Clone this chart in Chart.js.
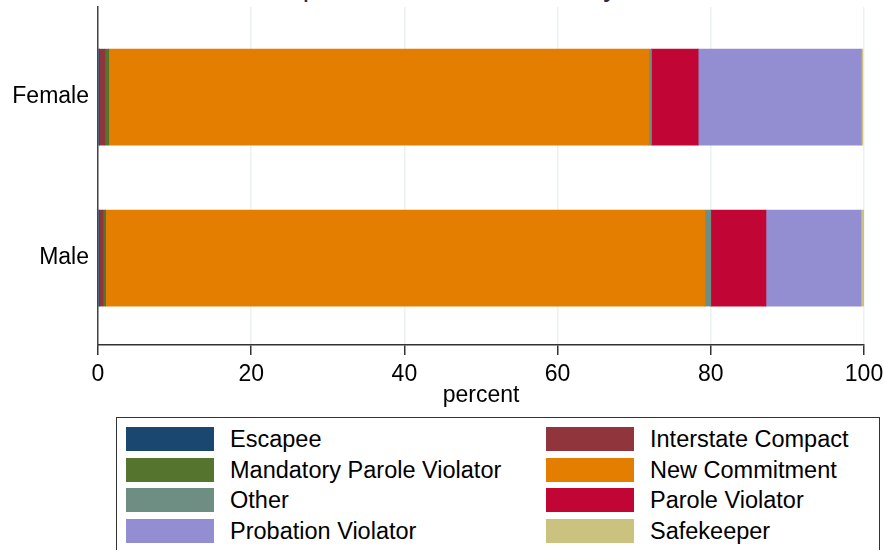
<!DOCTYPE html>
<html>
<head>
<meta charset="utf-8">
<script src="https://cdn.jsdelivr.net/npm/chart.js@4/dist/chart.umd.min.js"></script>
<style>
  body { margin: 0; background: #fff; font-family: "Liberation Sans", Arial, sans-serif; }
  #wrap { position: relative; width: 884px; height: 550px; overflow: hidden; }
  #title { position: absolute; left: 98px; width: 766px; top: -27px; font-size: 28px; line-height: 28px;
           text-align: center; color: #1e2c4e; white-space: nowrap; }
  #chart { position: absolute; left: 0; top: 0; }
  #legend { position: absolute; left: 116px; top: 417px; width: 764px; height: 160px;
            border: 1.5px solid #333; box-sizing: border-box; }
  .item { position: absolute; height: 24px; font-size: 23.5px; line-height: 24px; color: #000; white-space: nowrap; }
  .sw { position: absolute; left: 0; top: 0; width: 88px; height: 24px; }
  .lbl { position: absolute; left: 104px; top: 0; }
</style>
</head>
<body>
<div id="wrap">
  <div id="title">Composition of Admissions by Gender</div>
  <canvas id="chart" width="884" height="409"></canvas>
  <div id="legend"></div>
</div>
<script>
// --- Data ---
const categories = ["Female", "Male"];
const seriesNames = [
  "Escapee", "Interstate Compact", "Mandatory Parole Violator", "New Commitment",
  "Other", "Parole Violator", "Probation Violator", "Safekeeper"
];
const seriesColors = [
  "#1a476f", "#90353b", "#55752f", "#e37e00",
  "#6e8e84", "#c10534", "#938dd2", "#cac27e"
];
const escapee = [0.2, 0.2];
const interstateCompact = [0.7, 0.45];
const mandatoryParoleViolator = [0.5, 0.35];
const newCommitment = [70.5, 78.25];
const other = [0.35, 0.75];
const paroleViolator = [6.1, 7.2];
const probationViolator = [21.3, 12.4];
const safekeeper = [0.2, 0.4];
const xTicks = [0, 20, 40, 60, 80, 100];

const seriesValues = [
  escapee, interstateCompact, mandatoryParoleViolator, newCommitment,
  other, paroleViolator, probationViolator, safekeeper
];

const datasets = seriesNames.map((name, i) => ({
  label: name,
  data: seriesValues[i].map((v, j) => ({ x: v, y: j })),
  backgroundColor: seriesColors[i],
  borderWidth: 0,
  barThickness: 96,
  stack: "all"
}));

const font = { family: "'Liberation Sans', Arial, sans-serif", size: 23 };

new Chart(document.getElementById("chart"), {
  type: "bar",
  data: { datasets },
  options: {
    indexAxis: "y",
    responsive: false,
    animation: false,
    layout: { padding: { top: 7, right: 20, left: 0 } },
    plugins: { legend: { display: false }, tooltip: { enabled: false } },
    scales: {
      x: {
        type: "linear",
        stacked: true,
        min: 0,
        max: 100,
        afterBuildTicks: s => { s.ticks = xTicks.map(v => ({ value: v })); },
        afterFit: s => { s.height = 64; s.paddingLeft = 0; s.paddingRight = 0; },
        grid: { color: "#eaf2f3", lineWidth: 1.5, tickLength: 10, tickColor: "#333", tickWidth: 1.5 },
        border: { color: "#333", width: 1.5 },
        ticks: { font, color: "#000", padding: 6 },
        title: { display: true, text: "percent", font, color: "#000", padding: 0 }
      },
      y: {
        type: "linear",
        offset: false,
        reverse: true,
        min: -0.56,
        max: 1.54,
        afterBuildTicks: s => { s.ticks = categories.map((c, i) => ({ value: i })); },
        afterFit: s => { s.width = 98; s.paddingTop = 0; s.paddingBottom = 0; },
        grid: { color: "rgba(0,0,0,0)", offset: false, drawTicks: false, tickLength: 0 },
        border: { color: "#444", width: 1.5 },
        ticks: { font, color: "#000", padding: 9, callback: v => categories[v] }
      }
    }
  }
});

// --- Legend (two columns, row-major like the original) ---
const legend = document.getElementById("legend");
seriesNames.forEach((name, i) => {
  const col = i % 2, row = Math.floor(i / 2);
  const item = document.createElement("div");
  item.className = "item";
  item.style.left = (col === 0 ? 9 : 429) + "px";
  item.style.top = (9 + row * 30.7) + "px";
  item.innerHTML = `<div class="sw" style="background:${seriesColors[i]}"></div><div class="lbl">${name}</div>`;
  legend.appendChild(item);
});
</script>
</body>
</html>
